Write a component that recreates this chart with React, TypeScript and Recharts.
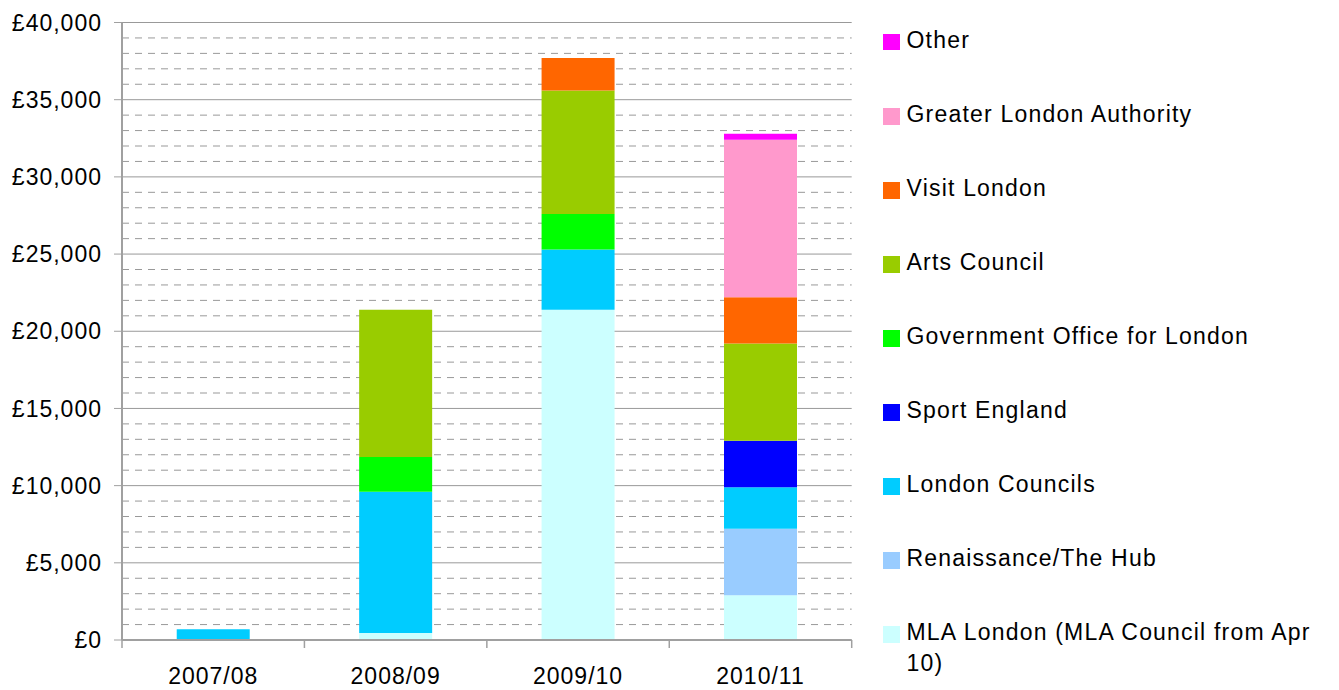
import React from "react";
import { BarChart, Bar, XAxis, YAxis, CartesianGrid } from "recharts";

const categories = ["2007/08", "2008/09", "2009/10", "2010/11"];

const mlaLondon = [0, 450, 21400, 2900];
const renaissance = [0, 0, 0, 4300];
const londonCouncils = [700, 9150, 3900, 2700];
const sportEngland = [0, 0, 0, 3000];
const govOffice = [0, 2250, 2300, 0];
const artsCouncil = [0, 9550, 8000, 6300];
const visitLondon = [0, 0, 2100, 3000];
const gla = [0, 0, 0, 10200];
const other = [0, 0, 0, 400];

const yTicks = [0, 5000, 10000, 15000, 20000, 25000, 30000, 35000, 40000];
const minorValues = [
  1000, 2000, 3000, 4000, 6000, 7000, 8000, 9000, 11000, 12000, 13000, 14000,
  16000, 17000, 18000, 19000, 21000, 22000, 23000, 24000, 26000, 27000, 28000,
  29000, 31000, 32000, 33000, 34000, 36000, 37000, 38000, 39000,
];

const series = [
  { key: "mla", name: "MLA London (MLA Council from Apr 10)", color: "#CCFFFF", values: mlaLondon },
  { key: "ren", name: "Renaissance/The Hub", color: "#99CCFF", values: renaissance },
  { key: "lc", name: "London Councils", color: "#00CCFF", values: londonCouncils },
  { key: "se", name: "Sport England", color: "#0000FF", values: sportEngland },
  { key: "gol", name: "Government Office for London", color: "#00FF00", values: govOffice },
  { key: "ac", name: "Arts Council", color: "#99CC00", values: artsCouncil },
  { key: "vl", name: "Visit London", color: "#FF6600", values: visitLondon },
  { key: "gla", name: "Greater London Authority", color: "#FF99CC", values: gla },
  { key: "oth", name: "Other", color: "#FF00FF", values: other },
];

const data = categories.map((c, i) => {
  const row: Record<string, any> = { cat: c };
  series.forEach((s) => {
    row[s.key] = s.values[i];
  });
  return row;
});

const FONT = "'Liberation Sans', Arial, sans-serif";
const AXIS = "#a0a0a0";
const W = 1339;
const H = 690;
const M = { top: 22.5, right: 487.3, bottom: 0, left: 0 };
const YW = 122;
const XH = 50;
const plotW = W - M.left - M.right - YW;

const fmt = (v: number) => "£" + v.toLocaleString("en-GB");

const XTick = (props: any) => {
  const { x, y, payload, index } = props;
  const half = payload && payload.offset ? payload.offset : plotW / categories.length / 2;
  return (
    <g>
      <line x1={x - half} x2={x - half} y1={y} y2={y + 8} stroke={AXIS} strokeWidth={1.5} />
      {index === categories.length - 1 && (
        <line x1={x + half} x2={x + half} y1={y} y2={y + 8} stroke={AXIS} strokeWidth={1.5} />
      )}
      <text
        x={x}
        y={y + 44}
        textAnchor="middle"
        fontFamily={FONT}
        fontSize={23}
        letterSpacing={1}
        fill="#000"
      >
        {payload.value}
      </text>
    </g>
  );
};

const legendItems = [...series].reverse();

export default function App() {
  return (
    <div style={{ position: "relative", width: W, height: H }}>
      <style>{"html,body{margin:0;padding:0;overflow:hidden}.recharts-surface{overflow:visible}"}</style>
      <BarChart width={W} height={H} data={data} margin={M} barCategoryGap="30%">
        <CartesianGrid
          horizontal
          vertical={false}
          horizontalValues={minorValues}
          stroke="#999999"
          strokeDasharray="7 6"
        />
        <CartesianGrid
          horizontal
          vertical={false}
          horizontalValues={yTicks}
          stroke="#999999"
        />
        <XAxis
          dataKey="cat"
          height={XH}
          axisLine={{ stroke: AXIS, strokeWidth: 2 }}
          tickLine={false}
          tickSize={0}
          tickMargin={0}
          tick={<XTick />}
          interval={0}
        />
        <YAxis
          width={YW}
          domain={[0, 40000]}
          ticks={yTicks}
          interval={0}
          tickFormatter={fmt}
          axisLine={{ stroke: AXIS, strokeWidth: 2 }}
          tickLine={{ stroke: AXIS }}
          tickSize={8}
          tickMargin={12}
          tick={{ fontFamily: FONT, fontSize: 23, fill: "#000", letterSpacing: 1 }}
        />
        <YAxis
          yAxisId="right"
          orientation="right"
          width={0}
          domain={[0, 40000]}
          tick={false}
          tickLine={false}
          axisLine={{ stroke: AXIS, strokeWidth: 2.5 }}
        />
        {series.map((s) => (
          <Bar
            key={s.key}
            dataKey={s.key}
            name={s.name}
            stackId="a"
            fill={s.color}
            isAnimationActive={false}
          />
        ))}
      </BarChart>
      <div
        style={{
          position: "absolute",
          left: 883,
          top: 0,
          fontFamily: FONT,
          fontSize: 23,
          letterSpacing: 1.2,
          color: "#000",
        }}
      >
        {legendItems.map((s, k) => (
          <div
            key={s.key}
            style={{
              position: "absolute",
              top: 24.8 + k * 74.06,
              left: 0,
              display: "flex",
              alignItems: "flex-start",
              lineHeight: "31px",
              width: 456,
            }}
          >
            <div
              style={{
                width: 16.5,
                height: 16.5,
                marginTop: 9.2,
                background: s.color,
                flex: "0 0 auto",
              }}
            />
            <div style={{ marginLeft: 7, width: 433 }}>{s.name}</div>
          </div>
        ))}
      </div>
    </div>
  );
}
